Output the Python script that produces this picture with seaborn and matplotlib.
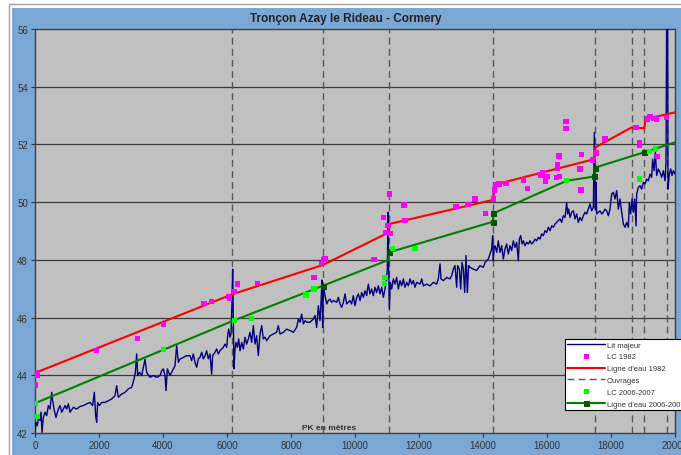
import matplotlib
matplotlib.use("Agg")
import matplotlib.pyplot as plt
from matplotlib.patches import Rectangle
import seaborn as sns
import pandas as pd

# ---- Lit majeur (bed profile), PK in metres / level in m NGF ----
lit_pk = [0, 31, 73, 115, 156, 188, 219, 261, 313, 365, 417, 469, 521, 552, 594, 656, 729, 781,
          833, 886, 938, 990, 1042, 1094, 1198, 1302, 1406, 1511, 1615, 1719, 1802, 1854, 1896,
          1927, 1958, 2011, 2084, 2188, 2292, 2396, 2500, 2552, 2604, 2709, 2813, 2917, 3021,
          3094, 3136, 3177, 3209, 3261, 3334, 3438, 3490, 3594, 3698, 3802, 3907, 3959, 4011,
          4063, 4094, 4136, 4219, 4323, 4375, 4427, 4479, 4532, 4636, 4740,
          4844, 4896, 4948, 5000, 5052, 5104, 5157, 5209, 5261, 5313, 5365, 5417, 5469, 5521,
          5552, 5625, 5677, 5729, 5781, 5834, 5886, 5938, 5990, 6021, 6052, 6094, 6125, 6156,
          6177, 6198, 6219, 6250, 6282, 6323, 6365, 6407, 6459, 6511, 6563, 6615, 6667, 6719,
          6771, 6823, 6875, 6927, 6979, 7032, 7084, 7136, 7188, 7240, 7344, 7448, 7552, 7604,
          7657, 7761, 7865, 7969, 8073, 8177, 8230, 8282, 8334, 8386, 8438, 8490, 8594, 8698,
          8750, 8802, 8855, 8907, 8938, 8969, 8990, 9011, 9063, 9115, 9167, 9219, 9271, 9323,
          9427, 9480, 9532, 9584, 9636, 9688, 9740, 9792,
          9844, 9896, 9948, 10000, 10052, 10104, 10157, 10209, 10261, 10313, 10365, 10417,
          10469, 10521, 10573, 10625, 10677, 10729, 10782, 10834, 10886, 10938, 10969, 11011,
          11032, 11052, 11073, 11104, 11146, 11198, 11250, 11302, 11354, 11407, 11459, 11511,
          11563, 11615, 11667, 11719, 11771, 11823, 11875, 11927, 12032, 12084, 12136, 12240,
          12344, 12448, 12552, 12604, 12657, 12688, 12761, 12865, 12969, 13021, 13073, 13125,
          13177, 13209, 13261, 13302, 13344, 13386, 13427, 13469, 13511, 13552, 13594, 13698,
          13802, 13907, 14011, 14063, 14115, 14167, 14219, 14271, 14302, 14323, 14344, 14375,
          14427, 14479, 14532, 14584, 14636, 14688, 14740, 14792,
          14844, 14896, 14948, 15000, 15052, 15104, 15136, 15177, 15219, 15261, 15313, 15365,
          15417, 15469, 15521, 15573, 15625, 15677, 15729, 15782, 15834, 15886, 15938, 15990,
          16042, 16094, 16146, 16198, 16250, 16302, 16354, 16407, 16459, 16511, 16563, 16615,
          16646, 16677, 16719, 16771, 16823, 16875, 16927, 16979, 17032, 17084, 17136, 17188,
          17240, 17292, 17344, 17396, 17448, 17480, 17511, 17532, 17552, 17604, 17657, 17709,
          17761, 17813, 17865, 17917, 17969, 18021, 18073, 18125, 18177, 18230, 18282, 18334,
          18386, 18438, 18490, 18542, 18573, 18615, 18657, 18698, 18740, 18782, 18802, 18855,
          18907, 18959, 19011, 19063, 19115, 19167, 19219, 19271, 19302, 19344, 19386, 19427,
          19479, 19532, 19584, 19636, 19688, 19719, 19740, 19771, 19781, 19823, 19865, 19907,
          19948, 20000]
lit_z = [42.02, 42.37, 42.25, 42.60, 42.43, 42.72, 42.02, 42.54, 42.72, 42.60, 42.95, 42.83,
         43.41, 43.12, 42.83, 42.54, 42.83, 42.95, 42.72, 42.83, 42.95, 42.83, 43.01, 42.72,
         42.89, 42.83, 42.92, 42.95, 43.01, 43.06, 42.95, 43.41, 42.60, 42.37, 43.06, 42.95,
         43.06, 43.06, 43.12, 43.18, 43.29, 43.64, 43.24, 43.35, 43.41, 43.53, 43.58, 43.87,
         44.10, 44.74, 43.99, 44.10, 43.99, 44.56, 44.10, 43.93, 43.99, 43.93, 43.99, 44.16,
         44.22, 43.99, 43.47, 44.22, 43.99, 44.22, 44.33, 45.03, 44.45, 44.56, 44.62, 44.68,
         44.68, 44.51, 44.74, 44.45, 44.28, 44.57, 44.62, 44.80, 44.57, 44.68, 44.85, 44.57,
         44.74, 44.04, 44.68, 44.80, 44.91, 44.74, 44.85, 44.91, 44.97, 45.08, 44.97, 45.37,
         45.60, 45.32, 45.43, 46.53, 47.68, 45.95, 44.22, 44.91, 45.14, 44.97, 45.26, 44.85,
         45.14, 44.91, 45.32, 45.08, 45.26, 45.49, 45.14, 45.72, 45.08, 45.37, 44.68, 45.43,
         45.72, 45.26, 45.32, 45.20, 45.37, 45.43, 45.49, 45.72, 45.43, 45.49, 45.60, 45.55,
         45.49, 45.66, 45.95, 45.84, 46.12, 45.78, 45.89, 45.84, 45.84, 45.95, 46.07, 45.66,
         46.41, 45.89, 46.53, 47.30, 45.66, 47.11, 46.76, 46.47, 46.59, 46.64, 46.53, 46.59,
         46.53, 46.70, 46.47, 46.35, 46.53, 46.82, 46.47, 46.53,
         46.59, 46.47, 46.76, 46.41, 46.70, 46.82, 46.59, 46.87, 46.70, 46.93, 46.76, 47.16,
         46.82, 46.99, 46.76, 47.05, 46.87, 47.10, 46.82, 47.05, 46.70, 46.99, 47.22, 47.68,
         49.65, 47.68, 46.30, 47.22, 46.99, 47.34, 47.16, 47.39, 46.99, 47.28, 47.10, 47.34,
         47.05, 47.22, 47.10, 47.34, 47.16, 47.28, 47.05, 47.22, 47.16, 47.34, 47.10, 47.16,
         47.10, 47.22, 47.16, 47.34, 47.86, 47.34, 47.28, 47.39, 47.34, 47.45, 47.68, 47.80,
         47.05, 47.80, 47.68, 46.99, 47.91, 47.68, 46.87, 48.15, 46.87, 47.80, 47.74, 47.68,
         47.63, 47.80, 47.74, 47.91, 47.97, 48.03, 48.20, 48.38, 48.84, 47.97, 48.43, 48.49,
         48.26, 48.66, 48.26, 48.49, 48.03, 48.38, 48.55, 48.20,
         48.49, 48.32, 48.66, 48.43, 48.61, 47.97, 48.72, 48.84, 48.55, 48.66, 48.49, 48.61,
         48.55, 48.66, 48.55, 48.61, 48.72, 48.66, 48.78, 48.72, 48.90, 48.84, 49.01, 48.95,
         49.13, 49.01, 49.18, 49.13, 49.24, 49.30, 49.36, 49.42, 49.30, 49.53, 49.47, 49.99,
         49.59, 49.76, 49.47, 49.65, 49.70, 49.42, 49.59, 49.30, 49.47, 49.36, 49.53, 49.65,
         49.59, 49.76, 49.94, 49.70, 49.82, 52.42, 49.76, 50.69, 49.59, 49.65, 49.70, 49.59,
         49.65, 49.76, 49.70, 49.53, 49.76, 50.28, 50.34, 50.11, 50.40, 49.76, 50.11, 49.65,
         49.24, 49.13, 49.30, 49.13, 49.99, 49.59, 50.11, 49.65, 50.11, 49.18, 50.28, 50.51,
         50.57, 50.45, 50.69, 50.63, 50.80, 50.74, 50.97, 50.86, 51.49, 51.09, 51.72, 50.92,
         51.15, 51.03, 50.86, 51.09, 50.74, 51.38, 56.50, 56.50, 50.45, 50.97, 51.15, 50.92,
         51.09, 50.97]

# ---- LC 1982 (surveyed levels) ----
lc82_pk = [0, 40, 60, 0, 1927, 3198, 4021, 5281, 5521, 6042, 6080, 6229, 6333, 6958, 8719,
           8958, 9010, 9062, 10594, 10896, 11073, 10969, 11030, 11103, 11531, 11562, 13156,
           13531, 13750, 14083, 14322, 14353, 14385, 14500, 14719, 15260, 15385, 15813, 15865,
           15958, 15958, 16000, 16333, 16333, 16375, 16302, 16400, 16594, 16594, 17083, 17031,
           17063, 17427, 17531, 17813, 18781, 18885, 18885, 19459, 19135, 19219, 19344, 19427,
           19740]
lc82_z = [44.10, 44.05, 44.00, 43.66, 44.85, 45.28, 45.77, 46.50, 46.57, 46.72, 46.68, 46.90,
          47.16, 47.19, 47.39, 47.86, 48.00, 48.03, 48.00, 49.47, 50.28, 48.95, 49.20, 48.90,
          49.90, 49.36, 49.84, 49.91, 50.11, 49.61, 50.11, 50.42, 50.60, 50.63, 50.65, 50.77,
          50.48, 50.94, 51.03, 50.84, 50.72, 50.90, 51.18, 51.29, 51.60, 50.86, 50.88, 52.79,
          52.56, 51.64, 51.15, 50.42, 51.46, 51.70, 52.19, 52.59, 52.07, 51.95, 51.59, 52.88,
          52.97, 52.90, 52.88, 52.94]

# ---- Ligne d'eau 1982 ----
le82_pk = [0, 6170, 8990, 11053, 11060, 14322, 14340, 14450, 17480, 17510, 18646, 19040, 19080,
           20000]
le82_z = [44.08, 46.81, 47.82, 48.95, 49.24, 50.08, 50.45, 50.63, 51.49, 51.90, 52.59, 52.56,
          52.88, 53.11]

# ---- Ouvrages (structures) ----
ouvrages_pk = [6170, 8985, 11050, 14310, 17500, 18645, 19040, 19760]

# ---- LC 2006-2007 ----
lc06_pk = [0, 73, 4021, 6229, 6771, 8469, 8719, 10938, 10916, 11178, 11875, 16615, 18885,
           19198, 19396]
lc06_z = [43.03, 42.56, 44.90, 45.89, 45.97, 46.78, 46.99, 47.39, 47.19, 48.40, 48.38, 50.74,
          50.80, 51.76, 51.84]

# ---- Ligne d'eau 2006-2007 ----
le06_pk = [0, 6170, 8990, 11053, 11060, 14310, 14322, 16615, 17480, 17510, 19041, 20000]
le06_z = [43.03, 45.88, 47.10, 48.00, 48.26, 49.32, 49.61, 50.74, 50.89, 51.20, 51.73, 52.07]
le06_marked = [2, 4, 5, 6, 8, 9, 10]

W, H = 681, 456
sns.set_style("white")
plt.rcParams["font.family"] = ["Liberation Sans", "DejaVu Sans"]

fig = plt.figure(figsize=(W / 100, H / 100), dpi=100)
fig.patch.set_facecolor("white")
# chart area background and outer frame
fig.add_artist(Rectangle((12 / W, 0), 1, 1 - 9 / H, transform=fig.transFigure,
                         facecolor="#7BA7D5", edgecolor="none", zorder=0))
fig.add_artist(Rectangle((9 / W, -0.1), 1.2, 1.1 - 5 / H, transform=fig.transFigure,
                         facecolor="none", edgecolor="#A0A0A0", lw=1.0, zorder=0.5))

ax = fig.add_axes([35 / W, 22 / H, 640 / W, 404 / H])
ax.set_facecolor("#C0C0C0")

lit = pd.DataFrame({"pk": lit_pk, "z": lit_z})
lc82 = pd.DataFrame({"pk": lc82_pk, "z": lc82_z})
le82 = pd.DataFrame({"pk": le82_pk, "z": le82_z})
lc06 = pd.DataFrame({"pk": lc06_pk, "z": lc06_z})
le06 = pd.DataFrame({"pk": le06_pk, "z": le06_z})

for y in range(44, 56, 2):
    ax.axhline(y, color="#3a3a3a", lw=0.9, zorder=1)

sns.lineplot(data=lit, x="pk", y="z", ax=ax, color="#000080", lw=1.0,
             estimator=None, sort=False, label="Lit majeur", zorder=3)
sns.scatterplot(data=lc82, x="pk", y="z", ax=ax, color="#FF00FF", marker="s", s=14,
                edgecolor="none", label="LC 1982", zorder=5)
sns.lineplot(data=le82, x="pk", y="z", ax=ax, color="#FF0000", lw=1.5,
             estimator=None, sort=False, label="Ligne d'eau 1982", zorder=4)
for i, pk in enumerate(ouvrages_pk):
    ax.axvline(pk, color="#585858", lw=1.0, ls=(0, (5, 3)), zorder=2,
               label="Ouvrages" if i == 0 else None)
sns.scatterplot(data=lc06, x="pk", y="z", ax=ax, color="#00FF00", marker="s", s=14,
                edgecolor="none", label="LC 2006-2007", zorder=5)
sns.lineplot(data=le06, x="pk", y="z", ax=ax, color="#008000", lw=1.5,
             estimator=None, sort=False, marker="s", markersize=3.6,
             markerfacecolor="#005500", markeredgecolor="#005500",
             markevery=le06_marked, label="Ligne d'eau 2006-2007", zorder=4)

ax.set_xlim(0, 20000)
ax.set_ylim(42, 56)
ax.set_xticks(range(0, 20001, 2000))
ax.set_yticks(range(42, 57, 2))
ax.tick_params(axis="both", labelsize=7, labelcolor="#333333", color="#333333",
               length=3, width=0.8, direction="out", pad=2)
ax.tick_params(axis="x", bottom=True)
ax.tick_params(axis="y", left=True)
ax.set_xlabel("")
ax.set_ylabel("")
for side, sp in ax.spines.items():
    sp.set_color("#404040")
    sp.set_linewidth(1.0)
    sp.set_visible(True)

ax.text(0.46, 0.004, "PK en mètres", transform=ax.transAxes, ha="center", va="bottom",
        fontsize=6, fontweight="bold", color="#333333")
fig.text(346 / W, 1 - 19 / H, "Tronçon Azay le Rideau - Cormery", ha="center",
         va="center", fontsize=8.5, fontweight="bold", color="#222222")

handles, labels = ax.get_legend_handles_labels()
leg = ax.legend(handles, labels, loc="upper left", bbox_to_anchor=(565 / W, 1 - 340 / H),
                bbox_transform=fig.transFigure, frameon=True, fancybox=False,
                edgecolor="black", facecolor="white", framealpha=1, fontsize=5.5,
                borderpad=0.3, handlelength=5.0, handletextpad=0.15, labelspacing=0.58,
                borderaxespad=0)
leg.get_frame().set_linewidth(0.8)
for t in leg.get_texts():
    t.set_color("#333333")

fig.savefig("out.png", dpi=100)
